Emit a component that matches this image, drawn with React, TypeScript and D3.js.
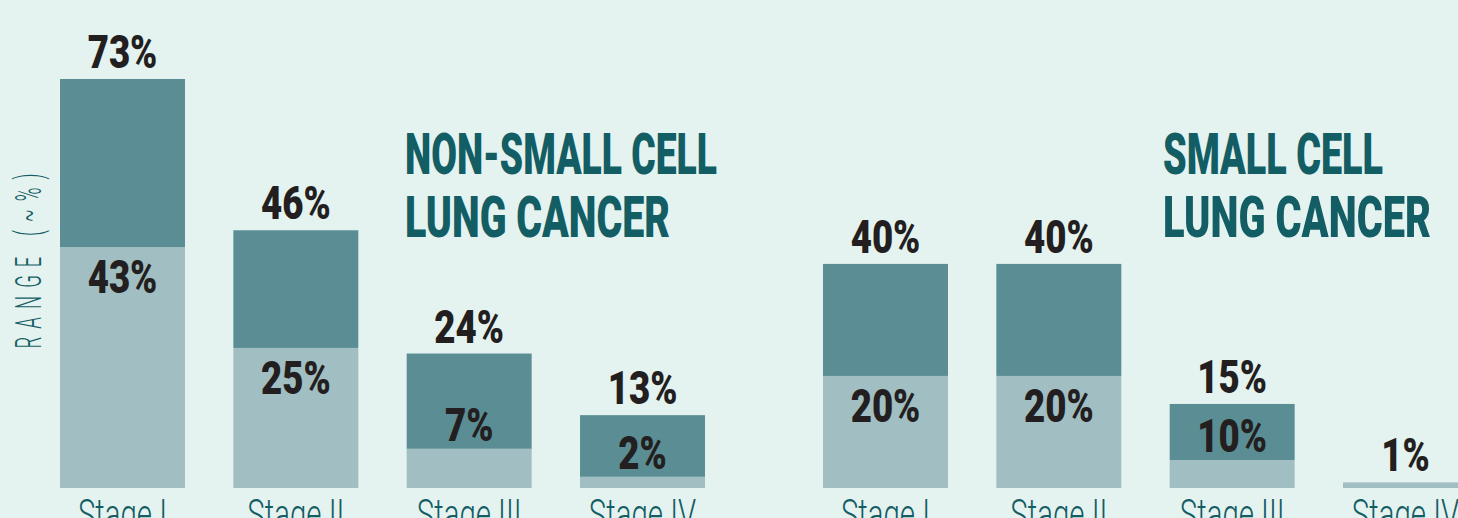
import React from 'react'
import * as d3 from 'd3'

// chart data
const stages = ['Stage I', 'Stage II', 'Stage III', 'Stage IV']
const nsclcHigh = [73, 46, 24, 13]
const nsclcLow = [43, 25, 7, 2]
const nsclcLowLabels = ['43%', '25%', '7%', '2%']
const sclcHigh = [40, 40, 15, 1]
const sclcLow = [20, 20, 5, 1]
const sclcLowLabels = ['20%', '20%', '10%', '']

const W = 1458
const H = 518
const BG = '#e5f3f0'
const DARK = '#5a8e94'
const LIGHT = '#a1bec2'
const INK = '#231f20'
const TEAL = '#135d64'

const NUM_FONT = 'Roboto, "Liberation Sans", sans-serif'

// y scale shared by both groups
const y = d3.scaleLinear().domain([0, 73]).range([488, 79])

interface GroupProps {
  x0: number
  x1: number
  high: number[]
  low: number[]
  lowLabels: string[]
}

// one group of stacked range bars
const Group: React.FC<GroupProps> = ({ x0, x1, high, low, lowLabels }) => {
  const x = d3.scaleBand().domain(stages).range([x0, x1]).paddingInner(0.279).paddingOuter(0)
  const bw = x.bandwidth()
  return (
    <g>
      {stages.map((s, i) => {
        const bx = x(s)!
        const cx = bx + bw / 2
        const yTop = y(high[i])
        const yMid = y(low[i])
        const lightH = y(0) - yMid
        // label goes under the boundary when the light part is tall, else inside the dark part
        const lowY = lightH > 60 ? yMid + 46 : yMid - 8
        return (
          <g key={s}>
            <rect x={bx} y={yMid} width={bw} height={y(0) - yMid} fill={LIGHT} />
            {high[i] > low[i] && <rect x={bx} y={yTop} width={bw} height={yMid - yTop} fill={DARK} />}
            <text
              transform={`translate(${cx},${yTop - 11}) scale(0.78,1)`}
              textAnchor="middle"
              fontFamily={NUM_FONT}
              fontWeight={900}
              fontSize={47}
              fill={INK}
            >
              {high[i]}%
            </text>
            {lowLabels[i] && (
              <text
                transform={`translate(${cx},${lowY}) scale(0.78,1)`}
                textAnchor="middle"
                fontFamily={NUM_FONT}
                fontWeight={900}
                fontSize={47}
                fill={INK}
              >
                {lowLabels[i]}
              </text>
            )}
            <text
              transform={`translate(${cx},529) scale(0.7,1)`}
              textAnchor="middle"
              fontFamily={NUM_FONT}
              fontWeight={300}
              fontSize={42}
              fill={TEAL}
            >
              {s}
            </text>
          </g>
        )
      })}
    </g>
  )
}

const Title: React.FC<{ x: number; lines: string[]; widths: number[] }> = ({ x, lines, widths }) => (
  <g fill={TEAL} fontFamily={NUM_FONT} fontWeight={900} fontSize={58}>
    {lines.map((l, i) => (
      <text key={l} x={x} y={174 + i * 63} textLength={widths[i]} lengthAdjust="spacingAndGlyphs">
        {l}
      </text>
    ))}
  </g>
)

export default function App() {
  return (
    <svg width={W} height={H} style={{ position: 'absolute', left: 0, top: 0 }}>
      <rect width={W} height={H} fill={BG} />
      <text
        transform="translate(41,261) rotate(-90) scale(0.5,1)"
        textAnchor="middle"
        fontFamily={NUM_FONT}
        fontWeight={300}
        fontSize={37}
        fill={TEAL}
        textLength={350}
        lengthAdjust="spacing"
      >
        RANGE (~%)
      </text>
      <Group x0={60} x1={705} high={nsclcHigh} low={nsclcLow} lowLabels={nsclcLowLabels} />
      <Group x0={823} x1={1468} high={sclcHigh} low={sclcLow} lowLabels={sclcLowLabels} />
      <Title x={405} lines={['NON-SMALL CELL', 'LUNG CANCER']} widths={[312, 265]} />
      <Title x={1163} lines={['SMALL CELL', 'LUNG CANCER']} widths={[220, 268]} />
    </svg>
  )
}
